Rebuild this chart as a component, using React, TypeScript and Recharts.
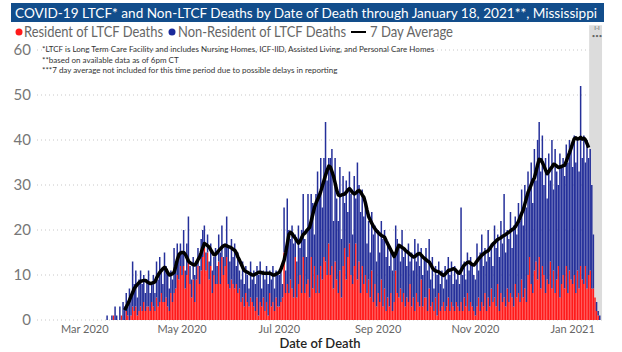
import React from "react";
import { ComposedChart, Bar, Line, XAxis, YAxis, CartesianGrid, ReferenceArea, Label } from "recharts";

// first date with a bar; every array below runs one value per day from here
const firstDate = "2020-03-14";

const residentMar = [0, 0, 0, 0, 0, 1, 0, 0, 0, 0, 1, 0, 0, 2, 1, 0, 1, 3];
const residentApr = [2, 3, 1, 2, 3, 2, 4, 2, 3, 3, 2, 4, 3, 2, 5, 3, 4, 6, 4, 4, 5, 3, 2, 6, 4, 6, 7, 10, 9, 12];
const residentMay = [10, 12, 7, 10, 13, 8, 5, 9, 4, 9, 12, 8, 11, 14, 16, 11, 15, 9, 12, 6, 10, 8, 8, 13, 8, 14, 10, 12, 14, 8, 7];
const residentJun = [9, 8, 7, 8, 6, 7, 4, 5, 3, 6, 4, 3, 5, 4, 3, 2, 5, 1, 4, 3, 5, 2, 4, 1, 6, 3, 4, 2, 5, 3];
const residentJul = [3, 4, 5, 15, 6, 8, 6, 9, 7, 5, 14, 5, 8, 10, 6, 14, 6, 8, 9, 5, 14, 7, 12, 6, 10, 6, 12, 9, 14, 13, 10];
const residentAug = [17, 10, 12, 7, 13, 9, 6, 11, 5, 12, 16, 9, 14, 17, 10, 8, 12, 17, 9, 13, 6, 12, 8, 10, 6, 9, 5, 11, 4, 8, 3];
const residentSep = [6, 4, 9, 3, 7, 2, 5, 3, 6, 2, 4, 11, 6, 5, 7, 4, 6, 3, 5, 4, 8, 3, 5, 2, 6, 4, 3, 9, 3, 5];
const residentOct = [5, 2, 7, 3, 4, 2, 5, 1, 6, 2, 3, 4, 2, 3, 5, 2, 4, 3, 2, 4, 3, 2, 4, 2, 5, 3, 6, 2, 4, 3, 2];
const residentNov = [1, 3, 5, 2, 4, 3, 6, 2, 5, 3, 7, 4, 5, 3, 8, 2, 6, 4, 5, 3, 7, 4, 6, 5, 3, 8, 5, 6, 4, 9];
const residentDec = [5, 7, 4, 10, 14, 8, 6, 11, 13, 9, 14, 7, 12, 10, 6, 9, 8, 13, 7, 11, 6, 9, 12, 5, 8, 10, 7, 12, 6, 11, 9];
const residentJan = [8, 10, 6, 11, 7, 12, 9, 8, 12, 7, 10, 11, 7, 7, 5, 2, 1, 0];

const nonResidentMar = [0, 1, 0, 0, 1, 0, 3, 1, 0, 3, 0, 4, 3, 4, 2, 7, 4, 10];
const nonResidentApr = [6, 8, 4, 7, 8, 6, 6, 4, 6, 8, 4, 4, 7, 4, 8, 6, 10, 5, 4, 11, 7, 7, 5, 5, 5, 10, 6, 7, 5, 5];
const nonResidentMay = [5, 8, 4, 7, 10, 4, 4, 5, 6, 4, 4, 4, 7, 6, 5, 4, 4, 4, 5, 5, 4, 8, 4, 6, 7, 7, 4, 5, 9, 8, 6];
const nonResidentJun = [9, 6, 10, 4, 9, 4, 5, 8, 5, 6, 6, 4, 8, 5, 8, 6, 7, 9, 9, 4, 6, 7, 8, 7, 5, 6, 8, 5, 6, 7];
const nonResidentJul = [7, 8, 3, 10, 5, 19, 14, 9, 14, 12, 5, 8, 13, 6, 14, 14, 12, 6, 19, 16, 14, 19, 7, 22, 23, 22, 24, 16, 22, 31, 21];
const nonResidentAug = [19, 26, 26, 15, 23, 18, 16, 23, 13, 20, 10, 22, 10, 16, 18, 11, 20, 10, 26, 17, 18, 17, 15, 16, 11, 13, 10, 13, 15, 13, 10];
const nonResidentSep = [14, 11, 13, 15, 13, 12, 12, 9, 10, 9, 10, 10, 12, 11, 6, 16, 8, 13, 7, 13, 5, 12, 6, 16, 7, 13, 9, 7, 7, 9];
const nonResidentOct = [11, 9, 11, 6, 10, 5, 7, 9, 7, 6, 8, 3, 10, 6, 9, 8, 9, 5, 10, 5, 8, 6, 21, 8, 8, 6, 9, 9, 10, 9, 8];
const nonResidentNov = [8, 14, 6, 13, 15, 9, 10, 11, 15, 11, 10, 8, 16, 13, 11, 12, 16, 13, 23, 12, 13, 14, 18, 11, 18, 15, 14, 20, 18, 20];
const nonResidentDec = [16, 23, 21, 23, 15, 27, 20, 27, 18, 31, 30, 26, 29, 20, 30, 18, 29, 18, 33, 18, 32, 24, 18, 32, 26, 26, 25, 27, 29, 29, 29];
const nonResidentJan = [26, 31, 29, 29, 26, 40, 27, 33, 23, 33, 26, 27, 23, 12, 0, 2, 1, 1];

// 7 day average (null where it is not drawn)
const avgMar = [null, null, null, null, null, null, null, null, null, null, null, null, 2.2, 2.9, 3.6, 4.4, 5.3, 6.1];
const avgApr = [7.0, 7.5, 7.9, 8.3, 8.6, 8.7, 8.8, 8.8, 8.5, 8.3, 8.1, 8.2, 8.3, 8.5, 9.3, 10.0, 10.6, 11.0, 11.4, 11.7, 11.2, 10.5, 10.0, 10.1, 10.3, 10.6, 11.9, 13.4, 14.5, 14.9];
const avgMay = [15.0, 15.0, 14.6, 13.9, 13.1, 12.7, 12.5, 12.3, 12.2, 12.7, 13.4, 14.0, 15.0, 16.1, 17.0, 16.8, 16.5, 16.2, 15.6, 15.0, 14.5, 14.6, 15.0, 15.4, 15.8, 16.2, 16.5, 16.6, 16.5, 16.3, 16.2];
const avgJun = [16.0, 15.7, 15.5, 14.9, 14.0, 13.3, 12.5, 11.7, 11.0, 10.8, 10.6, 10.4, 10.2, 10.0, 10.0, 10.2, 10.4, 10.6, 10.6, 10.5, 10.4, 10.4, 10.4, 10.4, 10.4, 10.2, 10.0, 10.0, 10.2, 10.4];
const avgJul = [10.6, 11.3, 12.3, 13.3, 15.0, 17.0, 19.0, 19.5, 19.2, 18.6, 18.2, 17.6, 17.1, 17.5, 18.3, 19.0, 19.3, 19.8, 20.2, 20.6, 22.0, 23.5, 25.0, 26.0, 26.8, 27.6, 28.6, 29.8, 31.0, 32.2, 33.3];
const avgAug = [34.2, 34.0, 33.0, 31.9, 30.4, 28.8, 27.8, 27.6, 27.8, 27.9, 28.0, 28.4, 28.9, 29.2, 28.8, 28.3, 28.0, 28.2, 28.6, 28.8, 28.4, 27.8, 27.3, 26.0, 24.4, 23.0, 22.2, 21.5, 20.8, 20.3, 19.8];
const avgSep = [19.4, 19.1, 18.8, 18.6, 18.4, 17.6, 16.9, 16.2, 15.5, 14.8, 14.1, 14.8, 15.8, 16.6, 16.4, 16.1, 15.9, 15.5, 15.2, 14.9, 14.6, 14.3, 14.0, 14.1, 14.4, 14.7, 14.8, 14.4, 14.0, 13.7];
const avgOct = [13.4, 13.1, 12.9, 12.3, 11.6, 11.1, 10.9, 10.8, 10.7, 10.4, 10.1, 9.9, 10.2, 10.6, 11.0, 11.1, 11.2, 11.4, 11.3, 10.9, 10.5, 10.4, 11.0, 11.7, 12.2, 12.5, 12.8, 12.9, 12.6, 12.3, 12.2];
const avgNov = [12.6, 13.1, 13.6, 14.0, 14.4, 14.7, 15.0, 15.2, 15.4, 15.9, 16.4, 16.9, 17.2, 17.6, 17.9, 18.1, 18.3, 18.6, 18.8, 19.0, 19.3, 19.5, 19.8, 20.1, 20.3, 20.7, 21.3, 21.9, 22.8, 23.7];
const avgDec = [24.5, 25.8, 27.1, 28.4, 29.2, 30.1, 31.0, 31.6, 33.0, 34.5, 35.7, 35.6, 35.0, 34.2, 33.3, 32.5, 33.0, 33.6, 34.0, 34.6, 34.5, 34.2, 33.9, 34.0, 34.1, 34.3, 34.4, 35.3, 36.3, 37.2, 38.2];
const avgJan = [39.3, 40.3, 40.5, 40.2, 40.3, 40.6, 40.2, 40.4, 40.0, 39.2, 38.3, null, null, null, null, null, null, null];

const tickDates = ["2020-03-01", "2020-05-01", "2020-07-01", "2020-09-01", "2020-11-01", "2021-01-01"];
const tickLabels = ["Mar 2020", "May 2020", "Jul 2020", "Sep 2020", "Nov 2020", "Jan 2021"];
const yTicks = [0, 10, 20, 30, 40, 50, 60];

const notes = [
  "*LTCF is Long Term Care Facility and includes Nursing Homes, ICF-IID, Assisted Living, and Personal Care Homes",
  "**based on available data as of 6pm CT",
  "***7 day average not included for this time period due to possible delays in reporting",
];

const RED = "#ff1a1a";
const BLUE = "#25309a";
const FONT = "'Segoe UI', Lato, 'Noto Sans', sans-serif";

const dayOf = (iso: string) => Math.round((Date.parse(iso) - Date.parse("2020-03-01")) / 86400000);

const resident = [...residentMar, ...residentApr, ...residentMay, ...residentJun, ...residentJul, ...residentAug, ...residentSep, ...residentOct, ...residentNov, ...residentDec, ...residentJan];
const nonResident = [...nonResidentMar, ...nonResidentApr, ...nonResidentMay, ...nonResidentJun, ...nonResidentJul, ...nonResidentAug, ...nonResidentSep, ...nonResidentOct, ...nonResidentNov, ...nonResidentDec, ...nonResidentJan];
const sevenDayAvg = [...avgMar, ...avgApr, ...avgMay, ...avgJun, ...avgJul, ...avgAug, ...avgSep, ...avgOct, ...avgNov, ...avgDec, ...avgJan];

const start = dayOf(firstDate);
const data = resident.map((r, i) => ({
  day: start + i,
  resident: r,
  nonResident: nonResident[i],
  avg: sevenDayAvg[i],
}));

const ticks = tickDates.map(dayOf);
const lastDay = start + resident.length - 1;
const firstNoAvg = start + sevenDayAvg.findIndex((v, i) => v === null && i > 20);

function Overlay() {
  return (
    <svg width={622} height={352} style={{ position: "absolute", left: 0, top: 0, pointerEvents: "none" }}>
      <rect x={11} y={3} width={593} height={19} fill="#124d8b" />
      <text x={15} y={17.5} fill="#fff" fontSize={14} fontFamily={FONT} textLength={582} lengthAdjust="spacingAndGlyphs">
        COVID-19 LTCF* and Non-LTCF Deaths by Date of Death through January 18, 2021**, Mississippi
      </text>

      <circle cx={19} cy={32} r={3.5} fill={RED} />
      <text x={24} y={37} fill="#666" fontSize={15} fontFamily={FONT} textLength={139} lengthAdjust="spacingAndGlyphs">
        Resident of LTCF Deaths
      </text>
      <circle cx={172} cy={32} r={3.5} fill="#1a2a9a" />
      <text x={178} y={37} fill="#666" fontSize={15} fontFamily={FONT} textLength={168} lengthAdjust="spacingAndGlyphs">
        Non-Resident of LTCF Deaths
      </text>
      <line x1={351} x2={366} y1={32} y2={32} stroke="#000" strokeWidth={2} />
      <text x={370} y={37} fill="#666" fontSize={15} fontFamily={FONT} textLength={83} lengthAdjust="spacingAndGlyphs">
        7 Day Average
      </text>

      {notes.map((n, i) => (
        <text key={i} x={42} y={52 + i * 10.5} fill="#333" fontSize={8} fontFamily={FONT}>
          {n}
        </text>
      ))}

      <text x={597} y={30} fill="#666" fontSize={6} fontFamily={FONT} textAnchor="middle">I-I</text>
      <text x={597} y={38} fill="#666" fontSize={6} fontFamily={FONT} textAnchor="middle">•••</text>
    </svg>
  );
}

export default function App() {
  return (
    <div style={{ position: "relative", width: 622, height: 352, background: "#fff", fontFamily: FONT }}>
      <style>{"body{margin:0}"}</style>
      <ComposedChart width={622} height={352} data={data} margin={{ top: 50, right: 19, bottom: 0, left: 0 }} barGap={0}>
        <CartesianGrid vertical={false} stroke="#c8c8c8" strokeDasharray="1 3" />
        <ReferenceArea x1={firstNoAvg - 0.7} x2={lastDay + 1.4} y1={0} y2={65.5} fill="#dcdcdc" fillOpacity={1} stroke="none" ifOverflow="visible" />
        <XAxis
          dataKey="day"
          type="number"
          domain={[-30, 325]}
          ticks={ticks}
          tickFormatter={(v: number) => tickLabels[ticks.indexOf(v)] ?? ""}
          axisLine={false}
          tickLine={false}
          tickSize={2}
          tickMargin={3}
          height={32}
          tick={{ fontSize: 11, fill: "#666", fontFamily: FONT }}
          allowDataOverflow
        >
          <Label value="Date of Death" position="insideBottom" offset={4} style={{ fontSize: 13, fontWeight: 600, fill: "#252423", fontFamily: FONT }} />
        </XAxis>
        <YAxis
          type="number"
          domain={[0, 60]}
          ticks={yTicks}
          width={37}
          axisLine={false}
          tickLine={false}
          tickSize={4}
          tickMargin={2}
          tick={{ fontSize: 15, fill: "#777", fontFamily: FONT }}
        />
        <Bar dataKey="resident" stackId="deaths" fill={RED} barSize={1.5} isAnimationActive={false} />
        <Bar dataKey="nonResident" stackId="deaths" fill={BLUE} barSize={1.5} isAnimationActive={false} />
        <Line dataKey="avg" type="linear" stroke="#000" strokeWidth={3.5} dot={false} activeDot={false} isAnimationActive={false} strokeLinejoin="round" />
      </ComposedChart>
      <Overlay />
    </div>
  );
}
